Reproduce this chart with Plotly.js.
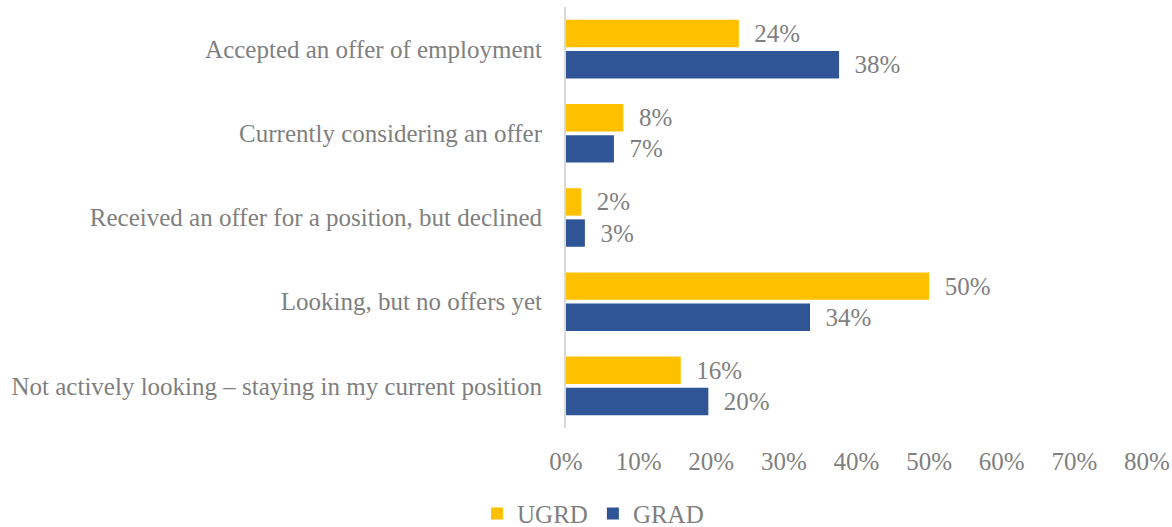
<!DOCTYPE html>
<html>
<head>
<meta charset="utf-8">
<script src="https://cdn.plot.ly/plotly-3.0.1.min.js"></script>
<style>html,body{margin:0;padding:0;background:#fff;}#chart{width:1172px;height:527px;}</style>
</head>
<body>
<div id="chart"></div>
<script>
const categories = [
  "Accepted an offer of employment",
  "Currently considering an offer",
  "Received an offer for a position, but declined",
  "Looking, but no offers yet",
  "Not actively looking – staying in my current position"
];
const ugrdValues = [0.238, 0.079, 0.021, 0.500, 0.158];
const gradValues = [0.376, 0.066, 0.026, 0.336, 0.196];
const xTickVals = [0, 0.1, 0.2, 0.3, 0.4, 0.5, 0.6, 0.7, 0.8];
const xTickText = ["0%", "10%", "20%", "30%", "40%", "50%", "60%", "70%", "80%"];

const FONT = "Liberation Serif, serif";
const GRAY = "#7f7f7f";
const SIZE = 25;
const pad = "\u00a0\u00a0";

const traces = [
  {type: "bar", orientation: "h", name: "UGRD", y: categories, x: ugrdValues,
   marker: {color: "#FFC000"}, texttemplate: pad + "%{x:.0%}", textposition: "outside",
   cliponaxis: false, textfont: {family: FONT, size: SIZE, color: GRAY}, hoverinfo: "skip"},
  {type: "bar", orientation: "h", name: "GRAD", y: categories, x: gradValues,
   marker: {color: "#2F5597"}, texttemplate: pad + "%{x:.0%}", textposition: "outside",
   cliponaxis: false, textfont: {family: FONT, size: SIZE, color: GRAY}, hoverinfo: "skip"}
];

const layout = {
  width: 1172, height: 527,
  margin: {l: 566, r: 25, t: 7, b: 99},
  paper_bgcolor: "#fff", plot_bgcolor: "#fff",
  font: {family: FONT, size: SIZE, color: GRAY},
  barmode: "group", bargap: 0.26, bargroupgap: 0.12,
  showlegend: true,
  legend: {orientation: "h", xref: "container", yref: "container", x: 0.506, xanchor: "center",
           y: 0.025, yanchor: "middle", itemwidth: 30, font: {family: FONT, size: SIZE, color: GRAY}, traceorder: "normal"},
  xaxis: {range: [0, 0.8], tickvals: xTickVals, ticktext: xTickText, showgrid: false,
          zeroline: false, showline: false, ticks: "", ticklabelstandoff: 16, fixedrange: true},
  yaxis: {autorange: "reversed", showline: true, linecolor: "#d9d9d9", linewidth: 2,
          ticks: "", ticklabelstandoff: 17, showgrid: false, fixedrange: true}
};

Plotly.newPlot("chart", traces, layout, {displayModeBar: false, staticPlot: true});
</script>
</body>
</html>
